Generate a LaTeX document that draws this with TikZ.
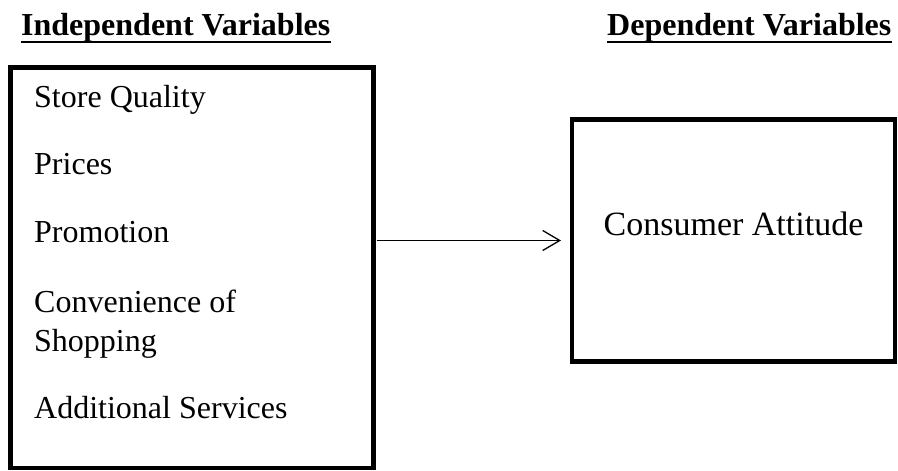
\documentclass[tikz,border=0pt]{standalone}
\usepackage{fontspec}
\setmainfont{Liberation Serif}
\usetikzlibrary{arrows.meta}
\begin{document}
\begin{tikzpicture}[x=1pt,y=1pt,
  box/.style={draw, line width=4.5pt, inner sep=0pt, outer sep=0pt},
  item/.style={anchor=base west, inner sep=0pt, font=\fontsize{32}{38}\selectfont},
  head/.style={anchor=base west, inner sep=0pt, font=\fontsize{32}{38}\selectfont\bfseries},
  uline/.style={line width=2pt},
  conn/.style={line width=1.3pt, -{Straight Barb[length=17pt,width=20pt,line width=1.3pt]}}]
\useasboundingbox (0,0) rectangle (898,-471);
% headings
\node[head] (h1) at (21,-35) {Independent Variables};
\node[head] (h2) at (607,-35) {Dependent Variables};
\draw[uline] ([yshift=-7pt]h1.base west) -- ([yshift=-7pt]h1.base east);
\draw[uline] ([yshift=-7pt]h2.base west) -- ([yshift=-7pt]h2.base east);
% boxes
\node[box, minimum width=363pt, minimum height=400.5pt] (L) at (192,-267.75) {};
\node[box, minimum width=323pt, minimum height=242pt] (R) at (733.5,-240.5) {};
% left items
\node[item] (i1) at (34,-107) {Store Quality};
\node[item] (i2) at (34,-174) {Prices};
\node[item] (i3) at (34,-242) {Promotion};
\node[item] (i4) at (34,-312) {Convenience of};
\node[item] (i5) at (34,-351) {Shopping};
\node[item] (i6) at (34,-418) {Additional Services};
% right item
\node[item, anchor=base, font=\fontsize{34}{40}\selectfont] (c1) at (733.5,-235) {Consumer Attitude};
% connector
\draw[conn, shorten <=3pt, shorten >=11pt] (R.west -| L.east) -- (R.west);
\end{tikzpicture}
\end{document}
